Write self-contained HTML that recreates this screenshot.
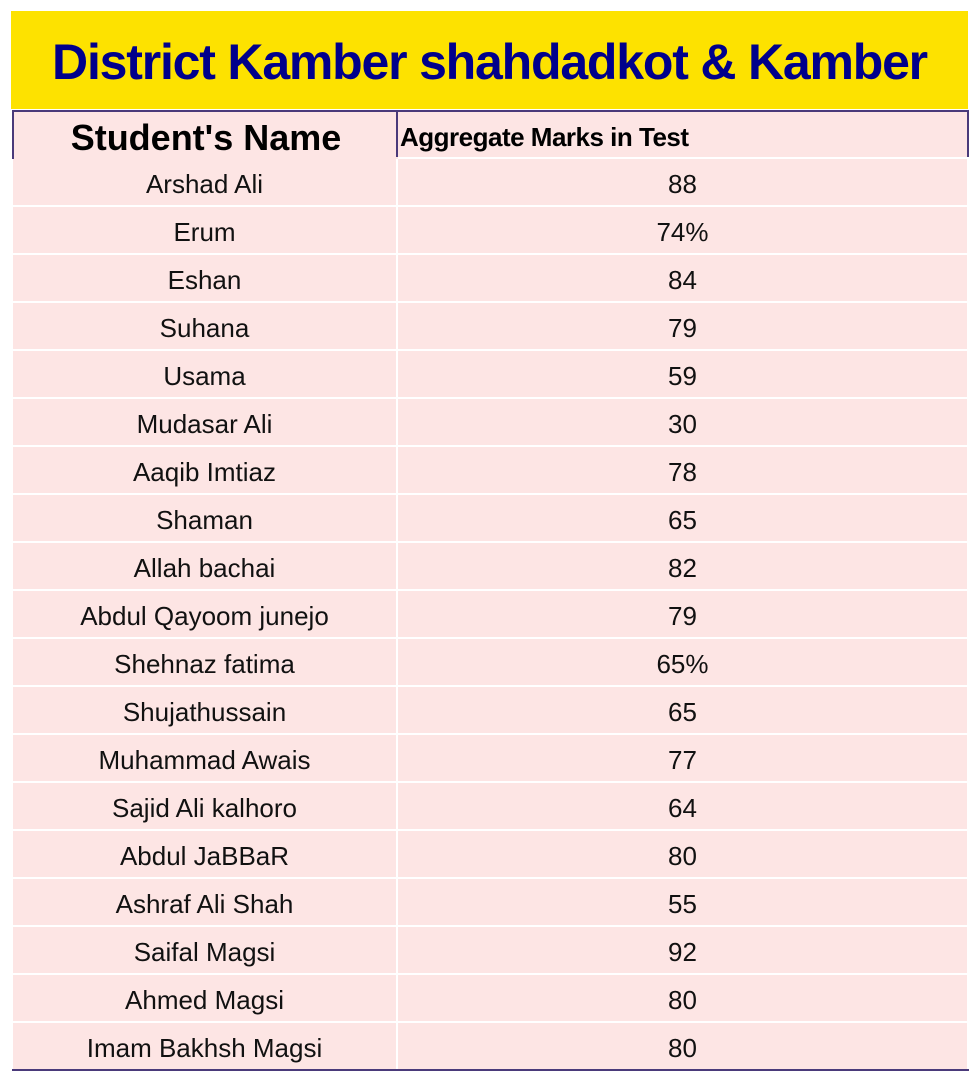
<!DOCTYPE html>
<html><head><meta charset="utf-8"><style>
body{margin:0;width:980px;height:1083px;background:#fff;position:relative;overflow:hidden;font-family:"Liberation Sans",sans-serif}
.a{position:absolute}
.title{left:11px;top:11px;width:957px;height:98px;background:#fde200;color:#00008b;font-size:50px;font-weight:bold;line-height:102px;text-align:center;letter-spacing:-1.2px}
.hdr{top:110px;height:47px;background:#fde5e4;border-top:2px solid #4a3a7a}
.cell{background:#fde5e4;height:46px;font-size:26px;line-height:50px;text-align:center;color:#111}
</style></head><body>
<div class="a title">District Kamber shahdadkot &amp; Kamber</div>
<div class="a hdr" style="left:12px;width:384px;border-left:2px solid #4a3a7a;font-size:36px;font-weight:bold;line-height:52px;text-align:center">Student's Name</div>
<div class="a hdr" style="left:396px;border-left:2px solid #4a3a7a;border-right:2px solid #4a3a7a;font-size:26px;font-weight:bold;line-height:50px;padding-left:2px;box-sizing:border-box;width:573px;letter-spacing:-0.5px">Aggregate Marks in Test</div>
<div id="rows"></div>
<div class="a" style="left:12px;top:1069px;width:957px;height:2px;background:#4a3a7a"></div>
<script>
const names=["Arshad Ali","Erum","Eshan","Suhana","Usama","Mudasar Ali","Aaqib Imtiaz","Shaman","Allah bachai","Abdul Qayoom junejo","Shehnaz fatima","Shujathussain","Muhammad Awais","Sajid Ali kalhoro","Abdul JaBBaR","Ashraf Ali Shah","Saifal Magsi","Ahmed Magsi","Imam Bakhsh Magsi"];
const marks=["88","74%","84","79","59","30","78","65","82","79","65%","65","77","64","80","55","92","80","80"];
const c=document.getElementById('rows');
names.forEach((n,i)=>{
 const top=159+48*i;
 const a=document.createElement('div');
 a.className='a cell';a.style.left='13px';a.style.top=top+'px';a.style.width='383px';a.textContent=n;
 
 
 c.appendChild(a);
 const b=document.createElement('div');
 b.className='a cell';b.style.left='398px';b.style.top=top+'px';b.style.width='569px';b.textContent=marks[i];
 
 
 c.appendChild(b);
});
</script>
</body></html>
